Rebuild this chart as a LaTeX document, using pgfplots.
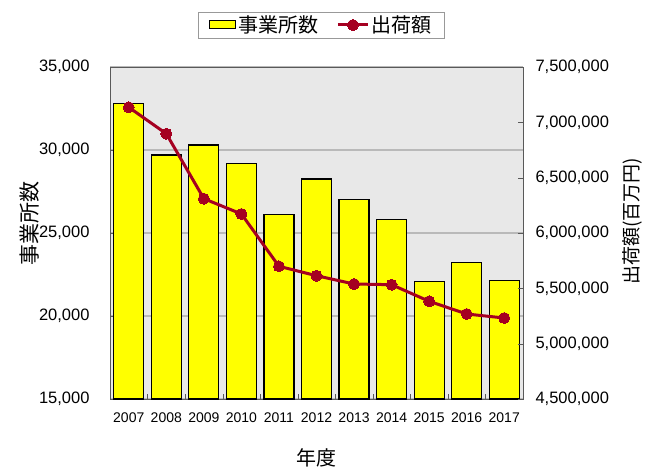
\documentclass[border=0pt]{standalone}
\usepackage{pgfplots}
\pgfplotsset{compat=1.18}
\usepackage{fontspec}
\setmainfont{Liberation Sans}
\newfontfamily\jp{Noto Sans CJK JP}
\definecolor{barY}{RGB}{255,255,0}
\definecolor{bgG}{RGB}{232,232,232}
\definecolor{lineR}{RGB}{165,0,33}
\pgfplotsset{/pgf/number format/assume math mode=true, /pgf/number format/1000 sep={,}, /pgf/number format/fixed, /pgf/number format/precision=0}
\begin{document}
\begin{tikzpicture}[x=1pt,y=1pt]
\path[use as bounding box] (0,0) rectangle (660,468);
\begin{axis}[
  at={(110pt,69pt)}, anchor=south west,
  scale only axis, width=413pt, height=332pt,
  xmin=-0.5, xmax=10.5, ymin=15000, ymax=35000,
  xtick={0,...,10},
  xticklabels={2007,2008,2009,2010,2011,2012,2013,2014,2015,2016,2017},
  major x tick style={draw=none},
  minor xtick={-0.5,0.5,...,10.5},
  minor tick length=5pt,
  xtick pos=bottom, ytick pos=left,
  tick align=inside, major tick length=5pt,
  ytick={15000,20000,25000,30000,35000},
  scaled y ticks=false,
  axis background/.style={fill=bgG},
  ymajorgrids, grid style={draw=gray!55, line width=1.3pt},
  axis line style={draw=gray!70!black},
  tick style={draw=gray!70!black},
  xticklabel style={font=\fontsize{14}{14}\selectfont, yshift=-10pt},
  yticklabel style={font=\fontsize{16.5}{16.5}\selectfont, xshift=-17pt},
  yticklabel={\pgfmathprintnumber[fixed,precision=0]{\tick}},
  ylabel={\jp 事業所数},
  ylabel style={at={(axis description cs:-0.194,0.53)}, anchor=center, rotate=0, font=\fontsize{21}{21}\selectfont},
  xlabel={\jp 年度},
  xlabel style={at={(axis description cs:0.5,-0.178)}, anchor=center, font=\fontsize{20}{20}\selectfont},
]
\addplot[ybar, bar width=30pt, bar shift=0pt, fill=barY, draw=black, line width=1.2pt]
  coordinates {(0,32800) (1,29700) (2,30300) (3,29200) (4,26100) (5,28250) (6,27000) (7,25800) (8,22100) (9,23200) (10,22150)};
\end{axis}
\begin{axis}[
  at={(110pt,69pt)}, anchor=south west,
  scale only axis, width=413pt, height=332pt,
  xmin=-0.5, xmax=10.5, ymin=4500000, ymax=7500000,
  axis x line=none, axis y line*=right,
  ytick={4500000,5000000,5500000,6000000,6500000,7000000,7500000},
  scaled y ticks=false,
  yticklabel={\pgfmathprintnumber[fixed,precision=0]{\tick}},
  tick align=inside, major tick length=5pt,
  axis line style={draw=gray!70!black},
  tick style={draw=gray!70!black},
  yticklabel style={font=\fontsize{16.5}{16.5}\selectfont, xshift=9pt},
  ylabel={\jp 出荷額(百万円)},
  ylabel style={at={(axis description cs:1.266,0.536)}, anchor=center, rotate=0, font=\fontsize{19}{19}\selectfont},
  legend style={at={(0.512,1.1265)}, anchor=center, legend columns=2, draw=gray!80,
    font=\jp\fontsize{20}{20}\selectfont, inner xsep=11pt, inner ysep=2pt,
    /tikz/every even column/.append style={column sep=16pt}},
  legend image code/.code={\draw[#1] (0pt,0pt) -- (30pt,0pt); \draw[#1, only marks] plot coordinates {(15pt,0pt)};},
]
\addlegendimage{legend image code/.code={\draw[fill=barY, draw=black, line width=1pt] (0pt,-4pt) rectangle (26pt,4pt);}}
\addlegendentry{事業所数}
\addplot[lineR, line width=3pt, mark=*, mark size=5.5pt, mark options={fill=lineR, draw=lineR, line width=0pt}]
  coordinates {(0,7136000) (1,6897000) (2,6310000) (3,6172000) (4,5699000) (5,5614000) (6,5539000) (7,5533000) (8,5383000) (9,5268000) (10,5232000)};
\addlegendentry{出荷額}
\end{axis}
\end{tikzpicture}
\end{document}
